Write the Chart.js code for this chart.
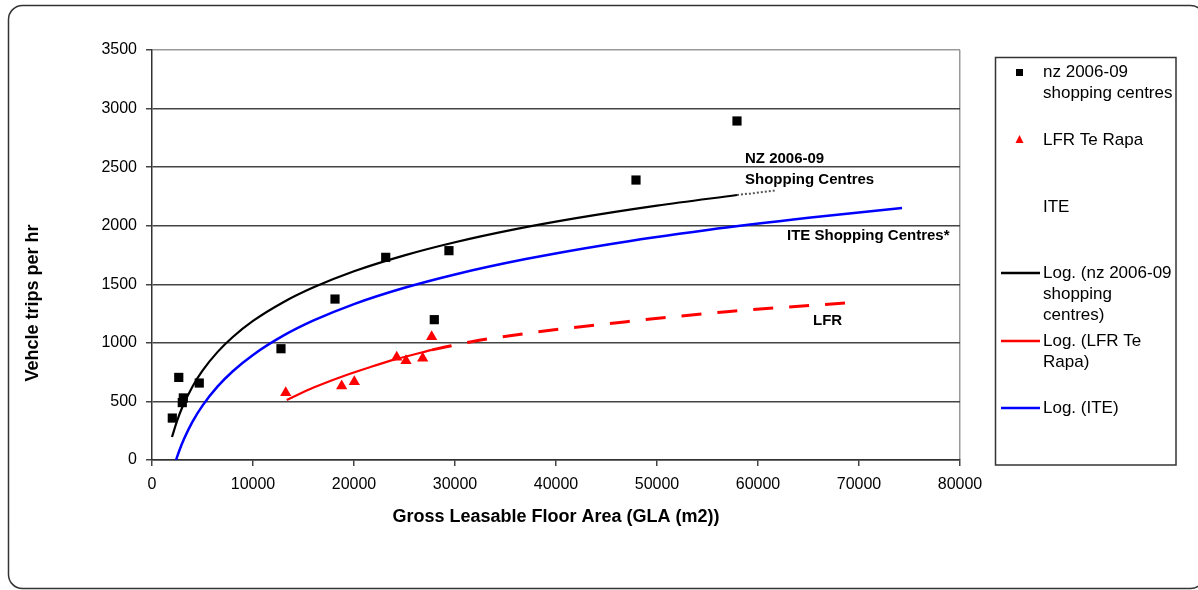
<!DOCTYPE html>
<html>
<head>
<meta charset="utf-8">
<script src="https://cdn.jsdelivr.net/npm/chart.js@4/dist/chart.umd.min.js"></script>
<style>
  body { margin: 0; background: #fff; }
  #wrap { width: 1198px; height: 590px; }
</style>
</head>
<body>
<div id="wrap"><canvas id="myChart" width="1198" height="590"></canvas></div>
<script>
// measured points (GLA m2 -> vehicle trips per hr)
const nzArea  = [2010, 2650, 3000, 3100, 4680, 12770, 18120, 23140, 27950, 29400, 47920, 57920];
const nzTrips = [358, 705, 490, 530, 657, 950, 1374, 1730, 1198, 1787, 2390, 2894];

const lfrArea  = [13240, 18780, 20030, 24230, 25150, 26800, 27690];
const lfrTrips = [574, 632, 669, 877, 848, 868, 1053];

// trend curves
const nzTrendArea  = [1980, 2500, 3000, 4000, 5000, 6500, 8000, 10000, 13000, 16000, 20000, 25000, 30000, 36000, 42000, 50000, 57920];
const nzTrendTrips = [196, 338, 450, 626, 763, 923, 1050, 1187, 1347, 1474, 1611, 1747, 1859, 1971, 2065, 2172, 2262];
const nzExtArea  = [57920, 61700];
const nzExtTrips = [2262, 2300];

const lfrTrendArea  = [13340, 16000, 18780, 21500, 24060, 27720];
const lfrTrendTrips = [512, 618, 711, 790, 859, 940];
const lfrExtArea  = [27720, 31650, 37100, 47000, 56900, 70100];
const lfrExtTrips = [940, 1010, 1081, 1181, 1266, 1349];

const iteTrendArea  = [2380, 2700, 3200, 4000, 5000, 6500, 8000, 10000, 13000, 16000, 20000, 25000, 30000, 37000, 45000, 55000, 65000, 74260];
const iteTrendTrips = [0, 79, 185, 325, 464, 628, 758, 897, 1061, 1191, 1331, 1470, 1584, 1715, 1838, 1963, 2067, 2151];

const xMax = 80000, xStep = 10000;
const yMax = 3500, yStep = 500;

const legendLabels = [
  ['nz 2006-09', 'shopping centres'],
  ['LFR Te Rapa'],
  ['ITE'],
  ['Log. (nz 2006-09', 'shopping', 'centres)'],
  ['Log. (LFR Te', 'Rapa)'],
  ['Log. (ITE)']
];
const notes = [
  ['NZ 2006-09', 745, 159],
  ['Shopping Centres', 745, 180],
  ['ITE Shopping Centres*', 787, 236],
  ['LFR', 813, 321]
];

const pts = (xs, ys) => xs.map((x, i) => ({x: x, y: ys[i]}));
const FONT = '"Liberation Sans", Arial, sans-serif';

const extras = {
  id: 'extras',
  afterDraw(chart) {
    const ctx = chart.ctx;
    ctx.save();
    // outer frame
    ctx.strokeStyle = '#333';
    ctx.lineWidth = 1.5;
    ctx.beginPath();
    ctx.roundRect(8.5, 5.5, 1196, 583, 14);
    ctx.stroke();

    // y title
    ctx.fillStyle = '#000';
    ctx.font = 'bold 18px ' + FONT;
    ctx.textAlign = 'center';
    ctx.textBaseline = 'middle';
    ctx.save();
    ctx.translate(33, 303);
    ctx.rotate(-Math.PI / 2);
    ctx.fillText('Vehcle trips per hr', 0, 0);
    ctx.restore();

    // notes on the curves
    ctx.font = 'bold 15px ' + FONT;
    ctx.textAlign = 'left';
    notes.forEach(n => ctx.fillText(n[0], n[1], n[2]));

    // legend
    ctx.strokeStyle = '#333';
    ctx.lineWidth = 1.5;
    ctx.strokeRect(995.5, 57.5, 180.5, 407.5);
    const rows = [72, 140, 207, 273, 341, 408];
    ctx.font = '17px ' + FONT;
    legendLabels.forEach((lines, i) => {
      lines.forEach((t, j) => ctx.fillText(t, 1043, rows[i] + j * 21));
    });
    ctx.fillStyle = '#000';
    ctx.fillRect(1016, 69, 7, 7);
    ctx.fillStyle = '#ff0000';
    ctx.beginPath();
    ctx.moveTo(1019.5, 135);
    ctx.lineTo(1023.5, 143);
    ctx.lineTo(1015.5, 143);
    ctx.closePath();
    ctx.fill();
    [['#000', 273], ['#ff0000', 341], ['#0000ff', 408]].forEach(l => {
      ctx.strokeStyle = l[0];
      ctx.lineWidth = 2.5;
      ctx.beginPath();
      ctx.moveTo(1001, l[1]);
      ctx.lineTo(1040, l[1]);
      ctx.stroke();
    });
    ctx.restore();
  }
};

function graficar(ctx) {
  const line = (data, color, dash, width) => ({
    data: data, showLine: true, borderColor: color, backgroundColor: color,
    borderWidth: width || 2.2, borderDash: dash || [], pointRadius: 0,
    cubicInterpolationMode: 'monotone', fill: false
  });
  new Chart(ctx, {
    type: 'scatter',
    data: {
      datasets: [
        {label: 'nz 2006-09 shopping centres', data: pts(nzArea, nzTrips),
         pointStyle: 'rect', pointRadius: 6.5, backgroundColor: '#000', borderWidth: 0},
        {label: 'LFR Te Rapa', data: pts(lfrArea, lfrTrips),
         pointStyle: 'triangle', pointRadius: 6.5, backgroundColor: '#ff0000', borderWidth: 0},
        line(pts(nzTrendArea, nzTrendTrips), '#000'),
        line(pts(nzExtArea, nzExtTrips), '#555', [2, 2], 2),
        line(pts(lfrTrendArea, lfrTrendTrips), '#ff0000'),
        line(pts(lfrExtArea, lfrExtTrips), '#ff0000', [20, 16], 3),
        line(pts(iteTrendArea, iteTrendTrips), '#0000ff', [], 2.5)
      ]
    },
    options: {
      responsive: false,
      animation: false,
      layout: {padding: {top: 50, right: 238, bottom: 0, left: 0}},
      plugins: {legend: {display: false}, tooltip: {enabled: false}},
      scales: {
        x: {
          type: 'linear', min: 0, max: xMax,
          afterFit: s => { s.height = 130; },
          ticks: {stepSize: xStep, autoSkip: false, maxRotation: 0, color: '#000',
                  padding: 9, font: {family: FONT, size: 16}, callback: v => String(v)},
          grid: {drawOnChartArea: true, tickLength: 6, tickColor: '#444', lineWidth: 1.5,
                 color: c => (c.tick && c.tick.value === xMax) ? '#999' : 'rgba(0,0,0,0)'},
          border: {color: '#333', width: 1.5},
          title: {display: true, text: 'Gross Leasable Floor Area (GLA (m2))', color: '#000',
                  font: {family: FONT, size: 18, weight: 'bold'}, padding: {top: 0, bottom: 62}}
        },
        y: {
          min: 0, max: yMax,
          afterFit: s => { s.width = 152; },
          ticks: {stepSize: yStep, color: '#000', padding: 9, font: {family: FONT, size: 16},
                  callback: v => String(v)},
          grid: {tickLength: 6, tickColor: '#444', lineWidth: 1.5,
                 color: c => (c.tick && c.tick.value === yMax) ? '#999' : '#444'},
          border: {color: '#333', width: 1.5}
        }
      }
    },
    plugins: [extras]
  });
}

function getChars() {
  const ctx = document.getElementById('myChart').getContext('2d');
  graficar(ctx);
}
getChars();
</script>
</body>
</html>
